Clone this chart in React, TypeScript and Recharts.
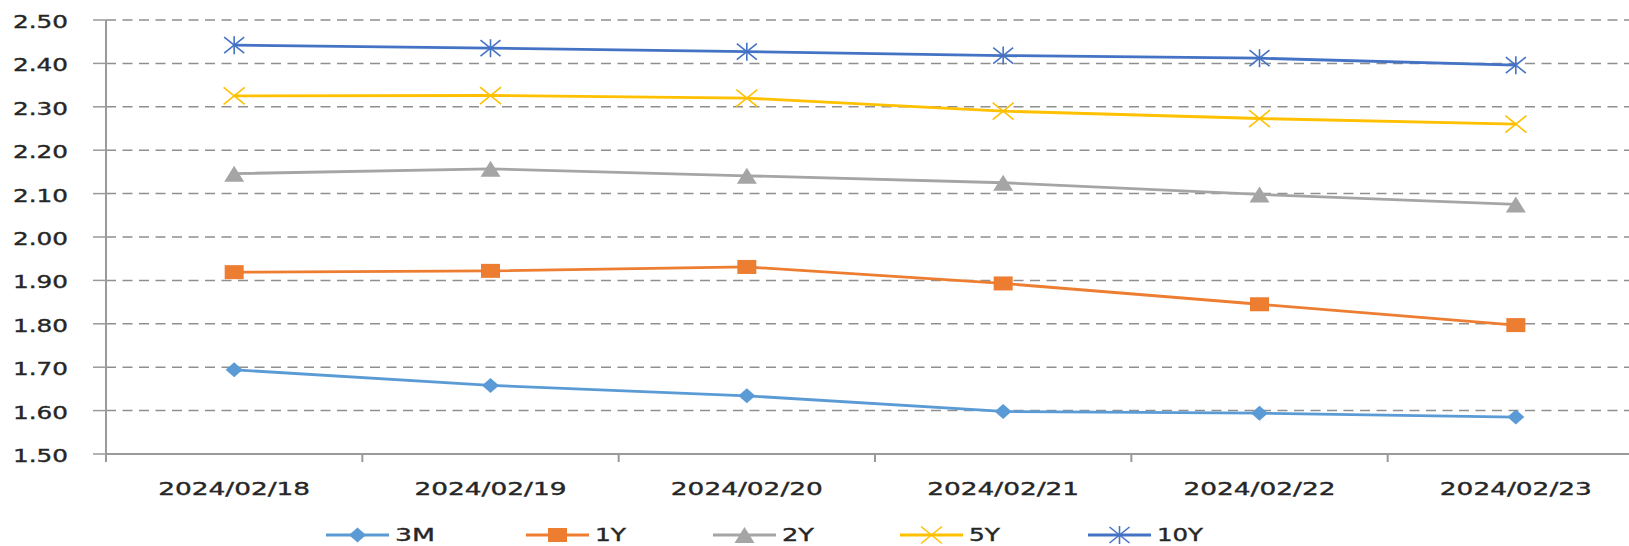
import React from "react";
import {
  LineChart,
  Line,
  XAxis,
  YAxis,
  CartesianGrid,
  Legend,
} from "recharts";

// dates on the x axis
const CATEGORIES = [
  "2024/02/18",
  "2024/02/19",
  "2024/02/20",
  "2024/02/21",
  "2024/02/22",
  "2024/02/23",
];

// yields
const S_3M = [1.694, 1.658, 1.634, 1.598, 1.594, 1.585];
const S_1Y = [1.919, 1.922, 1.931, 1.893, 1.845, 1.797];
const S_2Y = [2.146, 2.157, 2.141, 2.125, 2.098, 2.075];
const S_5Y = [2.325, 2.326, 2.320, 2.290, 2.273, 2.260];
const S_10Y = [2.442, 2.435, 2.427, 2.418, 2.412, 2.396];

const Y_TICKS = [1.5, 1.6, 1.7, 1.8, 1.9, 2.0, 2.1, 2.2, 2.3, 2.4, 2.5];

const SERIES = [
  { key: "3M", values: S_3M, color: "#5B9BD5", marker: "diamond" },
  { key: "1Y", values: S_1Y, color: "#ED7D31", marker: "square" },
  { key: "2Y", values: S_2Y, color: "#A5A5A5", marker: "triangle" },
  { key: "5Y", values: S_5Y, color: "#FFC000", marker: "x" },
  { key: "10Y", values: S_10Y, color: "#4472C4", marker: "star" },
];

const data = CATEGORIES.map((date, i) => {
  const row: any = { date };
  SERIES.forEach((s) => (row[s.key] = s.values[i]));
  return row;
});

const CHART_W = 1660;
const CHART_H = 546;
const PLOT_LEFT = 106;
const MARGIN_RIGHT = 16;
const BAND = (CHART_W - MARGIN_RIGHT - PLOT_LEFT) / CATEGORIES.length;
const FONT = '"DejaVu Sans", Verdana, sans-serif';
const TEXT = "#262626";
const AXIS = "#9a9a9a";

function Marker({ shape, cx, cy, color }: any) {
  switch (shape) {
    case "diamond":
      return (
        <polygon
          points={`${cx},${cy - 7.5} ${cx + 8.5},${cy} ${cx},${cy + 7.5} ${cx - 8.5},${cy}`}
          fill={color}
        />
      );
    case "square":
      return <rect x={cx - 9.5} y={cy - 7} width={19} height={14} fill={color} />;
    case "triangle":
      return (
        <polygon
          points={`${cx},${cy - 8} ${cx + 10},${cy + 8} ${cx - 10},${cy + 8}`}
          fill={color}
        />
      );
    case "x":
      return (
        <g stroke={color} strokeWidth={1.6}>
          <line x1={cx - 10.5} y1={cy - 8.5} x2={cx + 10.5} y2={cy + 8.5} />
          <line x1={cx - 10.5} y1={cy + 8.5} x2={cx + 10.5} y2={cy - 8.5} />
        </g>
      );
    default:
      return (
        <g stroke={color} strokeWidth={1.6}>
          <line x1={cx - 10} y1={cy - 8} x2={cx + 10} y2={cy + 8} />
          <line x1={cx - 10} y1={cy + 8} x2={cx + 10} y2={cy - 8} />
          <line x1={cx} y1={cy - 9} x2={cx} y2={cy + 9} />
        </g>
      );
  }
}

const textStyle = {
  fontFamily: FONT,
  fontSize: 17,
  fill: TEXT,
  stroke: TEXT,
  strokeWidth: 0.35,
};

const YTick = ({ x, y, payload }: any) => (
  <text
    x={x}
    y={y}
    dy={8}
    textAnchor="end"
    style={textStyle}
    textLength={55}
    lengthAdjust="spacingAndGlyphs"
  >
    {Number(payload.value).toFixed(2)}
  </text>
);

const XTick = ({ x, y, payload, index }: any) => (
  <g>
    <line x1={x - BAND / 2} y1={y} x2={x - BAND / 2} y2={y + 8} stroke={AXIS} strokeWidth={2} />
    {index === CATEGORIES.length - 1 && (
      <line x1={x + BAND / 2} y1={y} x2={x + BAND / 2} y2={y + 8} stroke={AXIS} strokeWidth={2} />
    )}
    <text
      x={x}
      y={y + 41}
      textAnchor="middle"
      style={textStyle}
      textLength={152}
      lengthAdjust="spacingAndGlyphs"
    >
      {payload.value}
    </text>
  </g>
);

// legend item starts and label widths (stretched text like the original)
const LEGEND_X = [326, 526, 713, 900, 1088];
const LEGEND_TW = [40, 31, 32, 31, 46];

const renderLegend = () => (
  <svg width={CHART_W - MARGIN_RIGHT} height={36} style={{ display: "block" }}>
    {SERIES.map((s, i) => {
      const x0 = LEGEND_X[i];
      return (
        <g key={s.key}>
          <line x1={x0} y1={25} x2={x0 + 63} y2={25} stroke={s.color} strokeWidth={2.8} />
          <Marker shape={s.marker} cx={x0 + 31.5} cy={25} color={s.color} />
          <text
            x={x0 + 69}
            y={31}
            style={textStyle}
            textLength={LEGEND_TW[i]}
            lengthAdjust="spacingAndGlyphs"
          >
            {s.key}
          </text>
        </g>
      );
    })}
  </svg>
);

export default function App() {
  return (
    <div
      style={{
        position: "absolute",
        left: 0,
        top: 0,
        width: 1629,
        height: 546,
        overflow: "hidden",
        background: "#fff",
      }}
    >
      <LineChart
        width={CHART_W}
        height={CHART_H}
        data={data}
        margin={{ top: 20, right: MARGIN_RIGHT, bottom: 0, left: 0 }}
      >
        <CartesianGrid
          vertical={false}
          stroke="#8f8f8f"
          strokeWidth={1.5}
          strokeDasharray="10 6.5"
        />
        <XAxis
          dataKey="date"
          height={56}
          padding={{ left: BAND / 2, right: BAND / 2 }}
          tickLine={false}
          tickSize={0}
          tickMargin={0}
          axisLine={{ stroke: AXIS, strokeWidth: 2 }}
          tick={<XTick />}
          interval={0}
        />
        <YAxis
          width={PLOT_LEFT}
          domain={[1.5, 2.5]}
          ticks={Y_TICKS}
          allowDataOverflow
          tickSize={13}
          tickMargin={25}
          tickLine={{ stroke: AXIS, strokeWidth: 1.5 }}
          axisLine={{ stroke: AXIS, strokeWidth: 2 }}
          tick={<YTick />}
        />
        <Legend verticalAlign="bottom" height={36} content={renderLegend} />
        {SERIES.map((s) => (
          <Line
            key={s.key}
            type="linear"
            dataKey={s.key}
            stroke={s.color}
            strokeWidth={2.8}
            isAnimationActive={false}
            dot={(p: any) => (
              <Marker key={`${s.key}-${p.index}`} shape={s.marker} cx={p.cx} cy={p.cy} color={s.color} />
            )}
            activeDot={false}
          />
        ))}
      </LineChart>
    </div>
  );
}
